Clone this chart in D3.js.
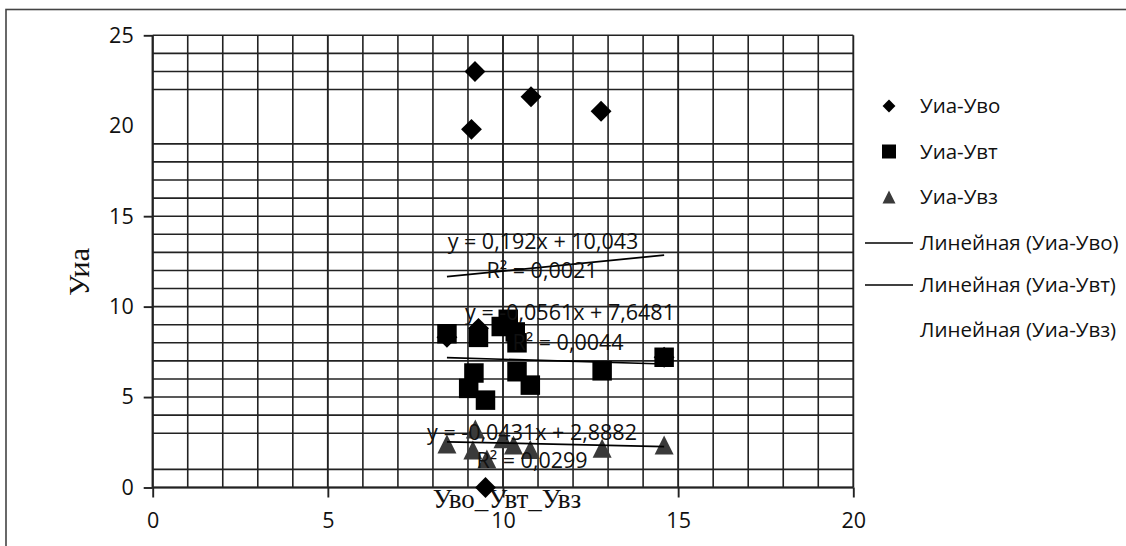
<!DOCTYPE html>
<html><head><meta charset="utf-8">
<script src="https://cdn.jsdelivr.net/npm/d3@7/dist/d3.min.js"></script>
<style>body{margin:0;background:#fff}svg{display:block}</style>
</head><body><svg id="c" width="1126" height="546"></svg>
<script>
// ---------- data ----------
const seriesNames = ["Уиа-Уво", "Уиа-Увт", "Уиа-Увз"];
const voX = [8.4, 9.3, 14.6, 9.1, 9.2, 10.8, 12.8, 9.5];
const voY = [8.3, 8.8, 7.2, 19.8, 23.0, 21.6, 20.8, 0.0];
const vtX = [8.4, 9.3, 9.95, 10.15, 10.35, 10.4, 9.17, 9.02, 9.5, 10.4, 10.78, 12.83, 14.6];
const vtY = [8.5, 8.3, 8.9, 9.3, 8.6, 8.0, 6.33, 5.48, 4.83, 6.4, 5.66, 6.45, 7.2];
const vzX = [8.4, 9.21, 9.14, 9.54, 10.0, 10.3, 10.78, 12.83, 14.6];
const vzY = [2.4, 3.23, 2.07, 1.57, 2.7, 2.35, 2.1, 2.17, 2.35];
const trendSlope = [0.192, -0.0561, -0.0431];
const trendIntercept = [10.043, 7.6481, 2.8882];
const trendEq = ["y = 0,192x + 10,043", "y = -0,0561x + 7,6481", "y = -0,0431x + 2,8882"];
const trendR2 = ["R² = 0,0021", "R² = 0,0044", "R² = 0,0299"];
const trendNames = ["Линейная (Уиа-Уво)", "Линейная (Уиа-Увт)", "Линейная (Уиа-Увз)"];
const xTicks = [0, 5, 10, 15, 20];
const yTicks = [0, 5, 10, 15, 20, 25];
const xGrid = d3.range(0, 21, 1);
const yGrid = [0, 1, 3, 4, 5, 6, 7, 8, 9, 10, 11, 12, 13, 14, 15, 16, 17, 18, 19, 22, 23, 24, 25];
const yTickMarks = [0, 5, 10, 15, 25];
const xTitle = "Уво_Увт_Увз";
const yTitle = "Уиа";

// ---------- layout ----------
const L = 152.7, R = 853.3, T = 35.3, B = 487.5;
const svg = d3.select("#c");
const x = d3.scaleLinear().domain([0, 20]).range([L, R]);
const y = d3.scaleLinear().domain([0, 25]).range([B, T]);
const FONT = "'Open Sans', Lato, sans-serif";
const SERIF = "'Liberation Serif', 'DejaVu Serif', serif";
const gridCol = "#222";

svg.append("rect").attr("x", 6).attr("y", 9.5).attr("width", 1140).attr("height", 560)
  .attr("fill", "none").attr("stroke", "#444").attr("stroke-width", 1.6);

// grid
const g = svg.append("g");
g.selectAll("line.h").data(yGrid).join("line")
  .attr("x1", L).attr("x2", R).attr("y1", d => y(d)).attr("y2", d => y(d))
  .attr("stroke", gridCol).attr("stroke-width", 1.6);
g.selectAll("line.v").data(xGrid).join("line")
  .attr("y1", T).attr("y2", B).attr("x1", d => x(d)).attr("x2", d => x(d))
  .attr("stroke", gridCol).attr("stroke-width", d => d % 5 === 0 ? 1.9 : 1.6);

// axes
const xAxis = svg.append("g").attr("transform", `translate(0,${B})`)
  .call(d3.axisBottom(x).tickValues(xTicks).tickSize(10).tickPadding(15).tickFormat(d3.format("d")));
const yAxis = svg.append("g").attr("transform", `translate(${L},0)`)
  .call(d3.axisLeft(y).tickValues(yTicks).tickSize(9).tickPadding(10).tickFormat(d3.format("d")));
[xAxis, yAxis].forEach(a => {
  a.select(".domain").attr("stroke", gridCol).attr("stroke-width", 1.9);
  a.selectAll(".tick line").attr("stroke", gridCol).attr("stroke-width", 1.9);
  a.selectAll(".tick text").attr("font-family", FONT).attr("font-size", 21.5).attr("fill", "#111");
});
yAxis.selectAll(".tick").filter(d => !yTickMarks.includes(d)).select("line").remove();
yAxis.select(".domain").attr("d", `M0,${y(25)}V${y(0)}`);
xAxis.select(".domain").attr("d", `M${x(0)},0H${x(20)}`);

// titles
svg.append("text").attr("transform", `translate(89,272) rotate(-90)`)
  .attr("text-anchor", "middle").attr("font-family", SERIF).attr("font-size", 30).attr("fill", "#111")
  .text(yTitle);
svg.append("text").attr("x", 507).attr("y", 508).attr("text-anchor", "middle")
  .attr("font-family", SERIF).attr("font-size", 27).attr("fill", "#111").text(xTitle);

// markers
const col = ["#000", "#000", "#3a3a3a"];
const sizes = [210, 380, 360];
const pts = [voX.map((v, i) => [v, voY[i]]), vtX.map((v, i) => [v, vtY[i]]), vzX.map((v, i) => [v, vzY[i]])];
function symPath(k, s) {
  if (k === 0) { const h = Math.sqrt(s) * 0.72; return `M0,${-h}L${h},0L0,${h}L${-h},0Z`; }
  if (k === 1) { const h = Math.sqrt(s) / 2; return `M${-h},${-h}H${h}V${h}H${-h}Z`; }
  const w = Math.sqrt(s) / 2, hh = Math.sqrt(s) / 2; return `M0,${-hh}L${w},${hh}L${-w},${hh}Z`;
}
pts.forEach((arr, k) => {
  svg.append("g").selectAll("path").data(arr).join("path")
    .attr("transform", d => `translate(${x(d[0])},${y(d[1])})`)
    .attr("d", symPath(k, sizes[k])).attr("fill", col[k]);
});

// trendlines
pts.forEach((arr, k) => {
  const ext = d3.extent(arr, d => d[0]);
  svg.append("line")
    .attr("x1", x(ext[0])).attr("x2", x(ext[1]))
    .attr("y1", y(trendSlope[k] * ext[0] + trendIntercept[k]))
    .attr("y2", y(trendSlope[k] * ext[1] + trendIntercept[k]))
    .attr("stroke", "#000").attr("stroke-width", 1.7);
});
// trendline labels
const eqPos = [[543, 249, 542, 278], [570, 320, 568, 350], [532, 440, 532, 468]];
eqPos.forEach((p, k) => {
  svg.append("text").attr("x", p[0]).attr("y", p[1]).attr("text-anchor", "middle")
    .attr("font-family", FONT).attr("font-size", 21.5).attr("fill", "#111").text(trendEq[k]);
  svg.append("text").attr("x", p[2]).attr("y", p[3]).attr("text-anchor", "middle")
    .attr("font-family", FONT).attr("font-size", 21.5).attr("fill", "#111").text(trendR2[k]);
});

// legend
const legY = [106, 151.5, 197, 243, 285, 330];
const lg = svg.append("g");
[0, 1, 2].forEach(k => {
  const s = [80, 196, 170][k];
  lg.append("path").attr("transform", `translate(889,${legY[k]})`).attr("d", symPath(k, s)).attr("fill", col[k]);
  lg.append("text").attr("x", 920).attr("y", legY[k]).attr("dy", "0.35em")
    .attr("font-family", FONT).attr("font-size", 20.5).attr("fill", "#111").text(seriesNames[k]);
});
[0, 1, 2].forEach(k => {
  if (k < 2) lg.append("line").attr("x1", 865).attr("x2", 913).attr("y1", legY[3 + k]).attr("y2", legY[3 + k])
    .attr("stroke", "#000").attr("stroke-width", 1.5);
  lg.append("text").attr("x", 920).attr("y", legY[3 + k]).attr("dy", "0.35em")
    .attr("font-family", FONT).attr("font-size", 20.5).attr("fill", "#111").text(trendNames[k]);
});
</script></body></html>
